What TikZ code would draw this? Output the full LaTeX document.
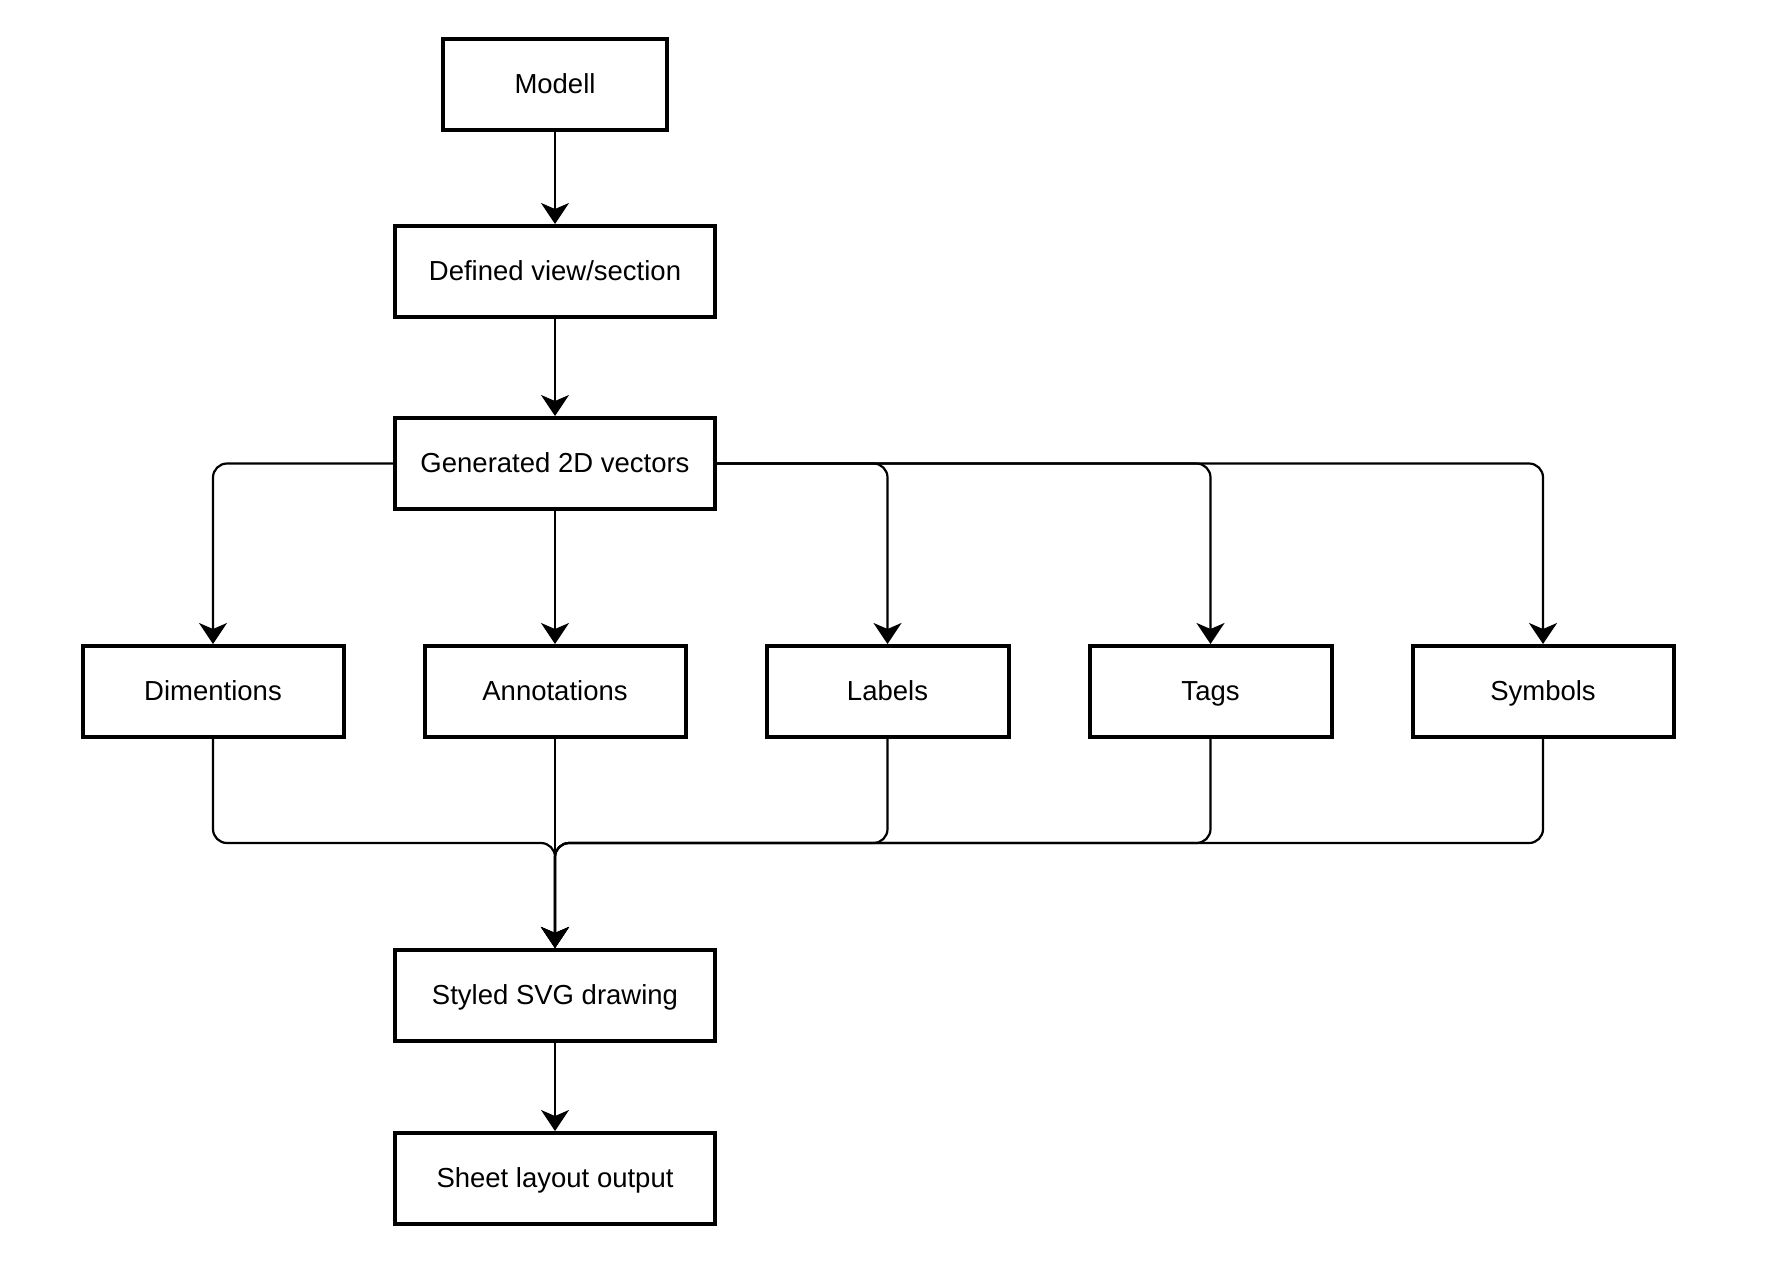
\documentclass[tikz,border=0pt]{standalone}
\usepackage{fontspec}
\setmainfont{Liberation Sans}
\usetikzlibrary{arrows.meta, positioning}

\begin{document}
\begin{tikzpicture}[
  x=1pt, y=1pt,
  box/.style={rectangle, draw=black, line width=4pt, fill=white, minimum height=91pt, text height=22pt, text depth=4pt, font=\fontsize{27.5}{33}\selectfont},
  widebox/.style={box, minimum width=320pt},
  rowbox/.style={box, minimum width=261pt},
  narrowbox/.style={box, minimum width=242pt},
  arrow/.style={-{Stealth[length=21pt, width=28pt, inset=6pt]}, line width=2.2pt},
  link/.style={line width=2.2pt, rounded corners=14pt}
]
\useasboundingbox (0,0) rectangle (1782,-1262);

% main column
\node[box, minimum width=224pt] (modell) at (555,-84.5) {Modell};
\node[widebox, below=92pt of modell] (defview) {Defined view/section};
\node[widebox, below=97pt of defview] (gen2d) {Generated 2D vectors};

% the five parts
\node[rowbox, below=133pt of gen2d] (annot) {Annotations};
\node[rowbox, left=77pt of annot] (dim) {Dimentions};
\node[narrowbox, right=77pt of annot] (labels) {Labels};
\node[narrowbox, right=77pt of labels] (tags) {Tags};
\node[rowbox, right=77pt of tags] (symbols) {Symbols};

\coordinate[below=104pt of annot.south] (join);

\node[widebox, below=209pt of annot] (styled) {Styled SVG drawing};
\node[widebox, below=88pt of styled] (sheet) {Sheet layout output};

\draw[arrow] (modell) -- (defview);
\draw[arrow] (defview) -- (gen2d);

\draw[arrow, link] (gen2d.west) -| (dim.north);
\draw[arrow] (gen2d) -- (annot);
\draw[arrow, link] (gen2d.east) -| (labels.north);
\draw[arrow, link] (gen2d.east) -| (tags.north);
\draw[arrow, link] (gen2d.east) -| (symbols.north);

\draw[arrow, link] (dim.south) |- (join) -- (styled.north);
\draw[arrow] (annot) -- (styled);
\draw[arrow, link] (labels.south) |- (join) -- (styled.north);
\draw[arrow, link] (tags.south) |- (join) -- (styled.north);
\draw[arrow, link] (symbols.south) |- (join) -- (styled.north);

\draw[arrow] (styled) -- (sheet);

\end{tikzpicture}
\end{document}
